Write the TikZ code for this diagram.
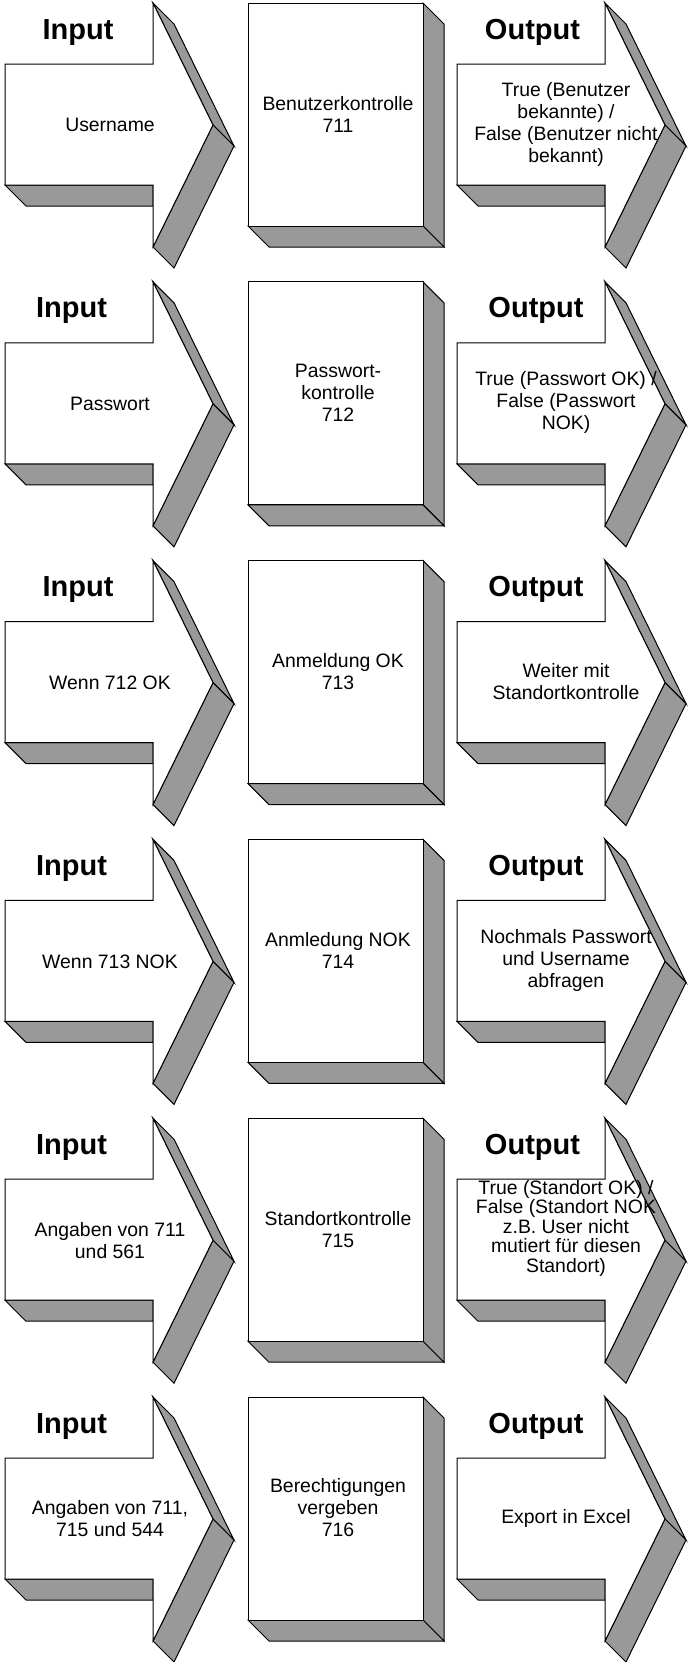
\documentclass[tikz,border=0pt]{standalone}
\usepackage{fontspec}
\setmainfont{Liberation Sans}
\usetikzlibrary{positioning}
\definecolor{sidegray}{RGB}{153,153,153}
\tikzset{
  face/.style={draw=black, fill=white, line width=0.5pt},
  side/.style={draw=black, fill=sidegray, line width=0.5pt},
  lbl/.style={font=\fontsize{14.5}{17}\selectfont\bfseries, inner sep=0pt, anchor=base},
  txt/.style={align=center, font=\fontsize{9.7}{11}\selectfont, inner sep=0pt},
  blockarrow/.pic={
    \draw[side] (0,182) -- (21,203) -- (148,203) -- (148,182) -- cycle;
    \draw[side] (148,0) -- (169,21) -- (229,143) -- (208,122) -- cycle;
    \draw[side] (208,122) -- (229,143) -- (169,265) -- (148,244) -- cycle;
    \draw[face] (0,61) -- (148,61) -- (148,0) -- (208,122) -- (148,244)
      -- (148,182) -- (0,182) -- cycle;
  },
  blockbox/.pic={
    \draw[side] (175,0) -- (196,21) -- (196,244) -- (175,223) -- cycle;
    \draw[side] (0,223) -- (21,244) -- (196,244) -- (175,223) -- cycle;
    \draw[face] (0,0) rectangle (175,223);
  }
}

\begin{document}
\begin{tikzpicture}[x=0.5pt, y=-0.5pt]
  \useasboundingbox (0,0) rectangle (690,1662);
  % six rows: input arrow, process box, output arrow
  \foreach \r/\ix/\ox in {0/78/532.5, 1/71.5/536, 2/78/536, 3/71.5/536, 4/71.5/532.5, 5/71.5/536} {
    \pic at (5,{3+\r*278.8}) {blockarrow};
    \pic at (248,{3+\r*278.8}) {blockbox};
    \pic at (457,{3+\r*278.8}) {blockarrow};
    \node[lbl] (inlbl\r) at (\ix,{39+\r*278.8}) {Input};
    \node[lbl] (outlbl\r) at (\ox,{39+\r*278.8}) {Output};
  }

  % row 1
  \node[txt] (user) at (110,125) {Username};
  \node[txt] (p711) at (338,114) {Benutzerkontrolle\\711};
  \node[txt] (o711) at (566,124) {True (Benutzer\\bekannte) /\\False (Benutzer nicht\\bekannt)};
  % row 2
  \node[txt] (pw) at (110,403.8) {Passwort};
  \node[txt] (p712) at (338,392.8) {Passwort-\\kontrolle\\712};
  \node[txt] (o712) at (566,402.8) {True (Passwort OK) /\\False (Passwort\\NOK)};
  % row 3
  \node[txt] (i713) at (110,682.6) {Wenn 712 OK};
  \node[txt] (p713) at (338,671.6) {Anmeldung OK\\713};
  \node[txt] (o713) at (566,681.6) {Weiter mit\\Standortkontrolle};
  % row 4
  \node[txt] (i714) at (110,961.4) {Wenn 713 NOK};
  \node[txt] (p714) at (338,950.4) {Anmledung NOK\\714};
  \node[txt] (o714) at (566,960.4) {Nochmals Passwort\\und Username\\abfragen};
  % row 5
  \node[txt] (i715) at (110,1240.2) {Angaben von 711\\und 561};
  \node[txt] (p715) at (338,1229.2) {Standortkontrolle\\715};
  \node[txt, font=\fontsize{9.7}{9.8}\selectfont] (o715) at (566,1228.2)
    {True (Standort OK) /\\False (Standort NOK\\z.B. User nicht\\mutiert für diesen\\Standort)};
  % row 6
  \node[txt] (i716) at (110,1519) {Angaben von 711,\\715 und 544};
  \node[txt] (p716) at (338,1508) {Berechtigungen\\vergeben\\716};
  \node[txt] (o716) at (566,1518) {Export in Excel};
\end{tikzpicture}
\end{document}
